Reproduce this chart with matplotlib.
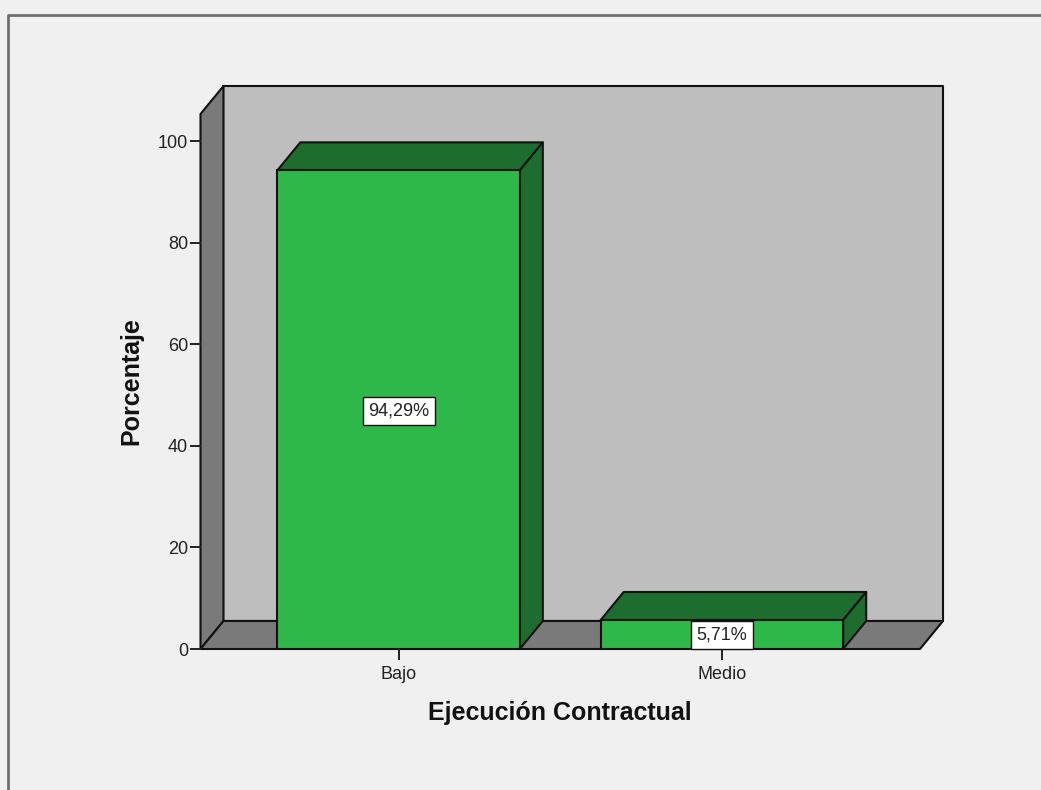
import matplotlib
matplotlib.use("Agg")
import matplotlib.pyplot as plt
from matplotlib.patches import Polygon
from matplotlib.lines import Line2D

categories = ["Bajo", "Medio"]
percent = [94.29, 5.71]
labels = ["94,29%", "5,71%"]
yticks = [0, 20, 40, 60, 80, 100]

W, H = 1041, 790
plt.rcParams['font.family'] = ['Liberation Sans', 'DejaVu Sans']

BG = "#f0f0f0"
WALL = "#bebebe"
SIDE = "#7a7a7a"
GREEN = "#2eb84a"
DARK = "#1d6e2e"
EDGE = "#111111"
LW = 1.5

fig = plt.figure(figsize=(W / 100, H / 100), dpi=100, facecolor=BG)

# axes box is the front plane of the 3D chart, in pixels
left, right, bottom, top = 200.5, 920.0, 649.0, 114.0
ax = fig.add_axes([left / W, 1 - bottom / H, (right - left) / W, (bottom - top) / H])
ax.set_facecolor("none")
ax.set_xlim(-0.6125, 1.6125)
ax.set_ylim(0, 105.4)

# depth of the fake 3D, in data units
dx, dy = 0.0711, 5.52
x0, x1 = ax.get_xlim()
y0, y1 = ax.get_ylim()


def face(pts, color, z):
    ax.add_patch(Polygon(pts, closed=True, facecolor=color, edgecolor=EDGE,
                         linewidth=LW, joinstyle="round", clip_on=False, zorder=z))


face([(x0 + dx, y0 + dy), (x1 + dx, y0 + dy), (x1 + dx, y1 + dy), (x0 + dx, y1 + dy)], WALL, 1)
face([(x0, y0), (x0 + dx, y0 + dy), (x0 + dx, y1 + dy), (x0, y1)], SIDE, 1)
face([(x0, y0), (x1, y0), (x1 + dx, y0 + dy), (x0 + dx, y0 + dy)], SIDE, 1)

# bars
width = 0.75
for i, v in enumerate(percent):
    a, b = i - width / 2, i + width / 2
    face([(a, v), (b, v), (b + dx, v + dy), (a + dx, v + dy)], DARK, 2)
    face([(b, 0), (b + dx, dy), (b + dx, v + dy), (b, v)], DARK, 2)
    ax.bar(i, v, width=width, color=GREEN, edgecolor=EDGE, linewidth=LW, zorder=3)
    ax.text(i, max(v / 2, 2.9) - 0.2, labels[i], ha="center", va="center", fontsize=13,
            color="#222222", zorder=4, clip_on=False,
            bbox=dict(boxstyle="square,pad=0.3", facecolor="white", edgecolor=EDGE, linewidth=1.0))

for s in ax.spines.values():
    s.set_visible(False)

ax.set_xticks(range(len(categories)))
ax.set_xticklabels(categories)
ax.set_yticks(yticks)
ax.tick_params(axis="both", length=8, width=1.4, color="#222222", labelcolor="#222222",
               labelsize=13, pad=1)
ax.tick_params(axis="x", pad=4)

ax.set_xlabel("Ejecución Contractual", fontsize=18, fontweight="bold", color="#111111", labelpad=13)
ax.set_ylabel("Porcentaje", fontsize=18, fontweight="bold", color="#111111", labelpad=10)

# outer frame only shows on the left and top
fig.add_artist(Line2D([8 / W, 8 / W, 1], [0, 1 - 15 / H, 1 - 15 / H], color="#6e6e6e", linewidth=2))

fig.savefig("out.png", dpi=100, facecolor=BG)
